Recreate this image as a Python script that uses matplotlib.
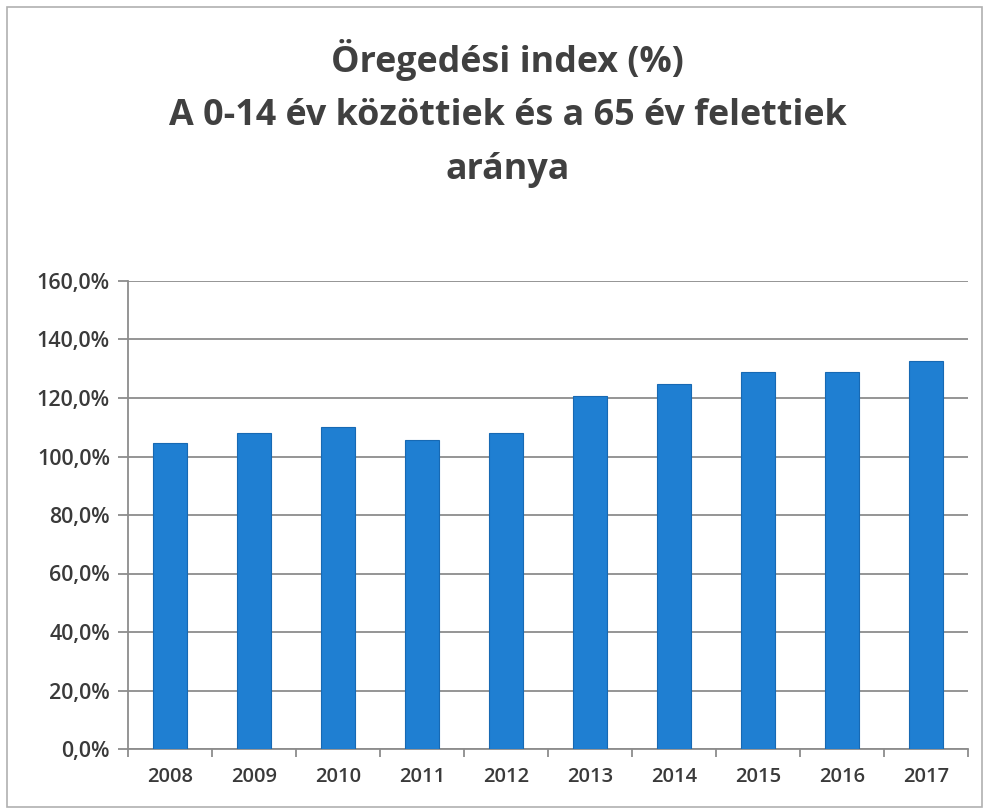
import matplotlib
matplotlib.use("Agg")
import matplotlib.pyplot as plt
from matplotlib.patches import Rectangle
from matplotlib.ticker import FuncFormatter, FixedLocator
import numpy as np

years = ["2008", "2009", "2010", "2011", "2012", "2013", "2014", "2015", "2016", "2017"]
index_pct = [104.7, 107.9, 110.2, 105.6, 107.9, 120.7, 124.7, 128.9, 128.9, 132.8]
title_lines = ["Öregedési index (%)", "A 0-14 év közöttiek és a 65 év felettiek", "aránya"]

TEXT_COLOR = "#3a3a3a"
GRID_COLOR = "#8c8c8c"
BAR_COLOR = "#1f7fd2"

plt.rcParams["font.family"] = ["Open Sans", "DejaVu Sans"]

fig = plt.figure(figsize=(9.86, 8.11), dpi=100)
ax = fig.add_axes([128 / 986, 1 - 749 / 811, (968 - 128) / 986, (749 - 281) / 811])

x = np.arange(len(years))
ax.bar(x, index_pct, width=0.41, color=BAR_COLOR, edgecolor="#1769b3", linewidth=0.8, zorder=3)

ax.set_xlim(-0.5, len(years) - 0.5)
ax.set_ylim(0, 160)
ax.set_yticks(np.arange(0, 161, 20))
ax.yaxis.set_major_formatter(FuncFormatter(lambda v, _: f"{v:.1f}%".replace(".", ",")))
ax.set_xticks(x)
ax.set_xticklabels(years)
ax.xaxis.set_minor_locator(FixedLocator(np.arange(-0.5, len(years), 1)))

ax.grid(axis="y", color=GRID_COLOR, linewidth=1.3, zorder=0)
for side in ["top", "right"]:
    ax.spines[side].set_visible(False)
for side in ["left", "bottom"]:
    ax.spines[side].set_color(GRID_COLOR)
    ax.spines[side].set_linewidth(1.3)

ax.tick_params(axis="y", direction="out", length=7, width=1.3, color=GRID_COLOR,
               labelsize=15.5, labelcolor=TEXT_COLOR, pad=6)
ax.tick_params(axis="x", which="major", length=0, labelsize=14.5, labelcolor=TEXT_COLOR, pad=13)
ax.tick_params(axis="x", which="minor", direction="out", length=6, width=1.3, color=GRID_COLOR)
for lbl in ax.get_xticklabels() + ax.get_yticklabels():
    lbl.set_fontweight("semibold")

for line, ypx in zip(title_lines, [60, 116, 170]):
    fig.text(0.515, 1 - ypx / 811, line, ha="center", va="center",
             fontsize=25.8, fontweight="bold", color="#404040")

fig.patches.append(Rectangle((7 / 986, 4 / 811), 975 / 986, 800 / 811, transform=fig.transFigure,
                             fill=False, edgecolor="#b0b0b0", linewidth=1.2))

fig.savefig("out.png", dpi=100, facecolor="white")
